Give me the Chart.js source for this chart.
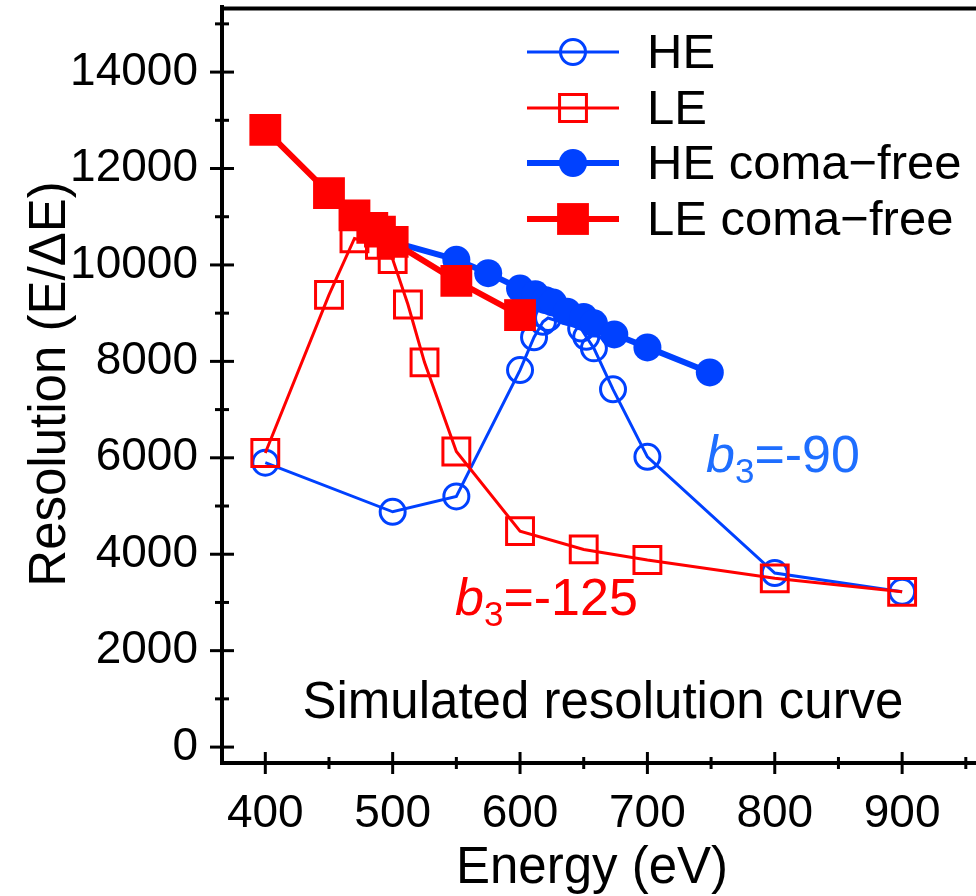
<!DOCTYPE html>
<html>
<head>
<meta charset="utf-8">
<script src="https://cdn.jsdelivr.net/npm/chart.js@4.4.1/dist/chart.umd.min.js"></script>
<style>
  html, body { margin: 0; padding: 0; background: #ffffff; }
  #wrap { width: 976px; height: 896px; }
</style>
</head>
<body>
<div id="wrap"><canvas id="c" width="976" height="896"></canvas></div>
<script>
// ---- data ----
const energyHE = [400, 500, 550, 600, 611, 618, 622, 648, 652, 658, 673, 700, 800, 900];
const resHE    = [5900, 4880, 5200, 7820, 8500, 8820, 8900, 8680, 8510, 8270, 7420, 6020, 3610, 3220];

const energyLE = [400, 450, 470, 490, 500, 512, 525, 550, 600, 650, 700, 800, 900];
const resLE    = [6100, 9380, 10550, 10420, 10120, 9180, 7980, 6130, 4480, 4100, 3880, 3500, 3220];

const energyHECF = [500, 550, 575, 600, 612, 620, 626, 637, 650, 658, 674, 700, 749];
const resHECF    = [10480, 10110, 9830, 9510, 9390, 9270, 9220, 9030, 8920, 8790, 8560, 8290, 7770];

const energyLECF = [400, 450, 470, 484, 490, 500, 550, 600];
const resLECF    = [12800, 11490, 11030, 10770, 10690, 10480, 9670, 8960];

const seriesNames = ['HE', 'LE', 'HE coma\u2212free', 'LE coma\u2212free'];

const xMajorTicks = [400, 500, 600, 700, 800, 900];
const xMinorTicks = [450, 550, 650, 750, 850, 950];
const yMajorTicks = [0, 2000, 4000, 6000, 8000, 10000, 12000, 14000];
const yMinorTicks = [1000, 3000, 5000, 7000, 9000, 11000, 13000, 15000];

const xTitle = 'Energy (eV)';
const yTitle = 'Resolution (E/\u0394E)';
const noteText = 'Simulated resolution curve';

const BLUE = '#0041FF';
const RED = '#FF0000';
const NOTE_BLUE = '#1E6EFF';
const FONT = '"Liberation Sans", Arial, sans-serif';

function pts(xs, ys) { return xs.map((x, i) => ({ x: x, y: ys[i] })); }

const datasets = [
  { label: seriesNames[3], data: pts(energyLECF, resLECF), order: 1,
    borderColor: RED, backgroundColor: RED, borderWidth: 6,
    pointStyle: 'rect', pointRadius: 22.5, pointBorderWidth: 0,
    pointBackgroundColor: RED, pointBorderColor: RED },
  { label: seriesNames[2], data: pts(energyHECF, resHECF), order: 2,
    borderColor: BLUE, backgroundColor: BLUE, borderWidth: 6,
    pointStyle: 'circle', pointRadius: 14, pointBorderWidth: 0,
    pointBackgroundColor: BLUE, pointBorderColor: BLUE },
  { label: seriesNames[1], data: pts(energyLE, resLE), order: 3,
    borderColor: RED, backgroundColor: 'rgba(0,0,0,0)', borderWidth: 3,
    pointStyle: 'rect', pointRadius: 19, pointBorderWidth: 3,
    pointBackgroundColor: 'rgba(0,0,0,0)', pointBorderColor: RED },
  { label: seriesNames[0], data: pts(energyHE, resHE), order: 4,
    borderColor: BLUE, backgroundColor: 'rgba(0,0,0,0)', borderWidth: 3,
    pointStyle: 'circle', pointRadius: 12.5, pointBorderWidth: 3,
    pointBackgroundColor: 'rgba(0,0,0,0)', pointBorderColor: BLUE }
];
datasets.forEach(d => { d.showLine = true; d.tension = 0; d.clip = false; d.pointHoverRadius = d.pointRadius; });

// legend order as in the reference
const legendOrder = [3, 2, 1, 0];

function zeroPad(s) { s.paddingTop = 0; s.paddingBottom = 0; s.paddingLeft = 0; s.paddingRight = 0; }

const decorPlugin = {
  id: 'decor',
  afterDraw(chart) {
    const ctx = chart.ctx;
    const ca = chart.chartArea;
    const xs = chart.scales.x, ys = chart.scales.y;
    ctx.save();
    ctx.strokeStyle = '#000';
    // top frame line (at the top of the y scale)
    const topY = Math.round(ys.getPixelForValue(ys.max)) + 1.5;
    ctx.lineWidth = 4;
    ctx.beginPath();
    ctx.moveTo(xs.left - 2, topY);
    ctx.lineTo(xs.right, topY);
    ctx.stroke();
    // crossing tick marks
    ctx.lineWidth = 3;
    yMajorTicks.forEach(v => { const p = ys.getPixelForValue(v); ctx.beginPath(); ctx.moveTo(ca.left - 12, p); ctx.lineTo(ca.left + 12, p); ctx.stroke(); });
    yMinorTicks.forEach(v => { const p = ys.getPixelForValue(v); ctx.beginPath(); ctx.moveTo(ca.left - 7, p); ctx.lineTo(ca.left + 7, p); ctx.stroke(); });
    xMajorTicks.forEach(v => { const p = xs.getPixelForValue(v); ctx.beginPath(); ctx.moveTo(p, ca.bottom - 11); ctx.lineTo(p, ca.bottom + 11); ctx.stroke(); });
    xMinorTicks.forEach(v => { const p = xs.getPixelForValue(v); ctx.beginPath(); ctx.moveTo(p, ca.bottom - 6); ctx.lineTo(p, ca.bottom + 6); ctx.stroke(); });

    // axis titles
    ctx.fillStyle = '#000';
    ctx.font = '51px ' + FONT;
    ctx.textAlign = 'center';
    ctx.textBaseline = 'alphabetic';
    ctx.fillText(xTitle, 592, 883);
    ctx.save();
    ctx.translate(65, 384);
    ctx.rotate(-Math.PI / 2);
    ctx.fillText(yTitle, 0, 0);
    ctx.restore();

    // note
    ctx.font = '51px ' + FONT;
    ctx.fillText(noteText, 603, 718);

    // b3 annotations
    function b3(x, baseline, value, color) {
      ctx.fillStyle = color;
      ctx.textAlign = 'left';
      ctx.font = 'italic 52px ' + FONT;
      ctx.fillText('b', x, baseline);
      let w = ctx.measureText('b').width;
      ctx.font = '35px ' + FONT;
      ctx.fillText('3', x + w, baseline + 11);
      w += ctx.measureText('3').width;
      ctx.font = '52px ' + FONT;
      ctx.fillText('=' + value, x + w, baseline);
    }
    b3(706, 472, '-90', NOTE_BLUE);
    b3(455, 615, '-125', RED);

    // legend
    const lx0 = 527, lx1 = 619, lmx = 573, ltx = 647;
    const rows = [52, 108, 163, 219];
    legendOrder.forEach((di, i) => {
      const d = chart.data.datasets[di];
      const y = rows[i];
      ctx.strokeStyle = d.borderColor;
      ctx.lineWidth = d.borderWidth;
      ctx.beginPath(); ctx.moveTo(lx0, y); ctx.lineTo(lx1, y); ctx.stroke();
      ctx.fillStyle = d.pointBackgroundColor;
      ctx.strokeStyle = d.pointBorderColor;
      ctx.lineWidth = d.pointBorderWidth;
      Chart.helpers.drawPoint(ctx, { pointStyle: d.pointStyle, radius: d.pointRadius, borderWidth: d.pointBorderWidth, rotation: 0 }, lmx, y);
      ctx.fillStyle = '#000';
      ctx.font = '49px ' + FONT;
      ctx.textAlign = 'left';
      ctx.textBaseline = 'middle';
      ctx.fillText(d.label, ltx, y + 2);
    });
    ctx.restore();
  }
};

new Chart(document.getElementById('c'), {
  type: 'scatter',
  data: { datasets: datasets },
  options: {
    responsive: false,
    animation: false,
    events: [],
    layout: { autoPadding: false, padding: { top: 7, right: 0, left: 0, bottom: 0 } },
    plugins: { legend: { display: false }, tooltip: { enabled: false } },
    scales: {
      x: {
        type: 'linear', min: 366, max: 958,
        afterBuildTicks: s => { s.ticks = xMajorTicks.map(v => ({ value: v })); },
        afterFit: s => { s.height = 133; zeroPad(s); },
        grid: { display: false, drawTicks: false },
        border: { display: true, color: '#000', width: 4 },
        ticks: { color: '#000', font: { family: FONT, size: 46 }, padding: 24, maxRotation: 0, autoSkip: false,
                 callback: v => String(v) }
      },
      y: {
        type: 'linear', min: -330, max: 15350,
        afterBuildTicks: s => { s.ticks = yMajorTicks.map(v => ({ value: v })); },
        afterFit: s => { s.width = 222; zeroPad(s); },
        grid: { display: false, drawTicks: false },
        border: { display: true, color: '#000', width: 4 },
        ticks: { color: '#000', font: { family: FONT, size: 46 }, padding: 24, autoSkip: false,
                 callback: v => String(v) }
      }
    }
  },
  plugins: [decorPlugin]
});
</script>
</body>
</html>
